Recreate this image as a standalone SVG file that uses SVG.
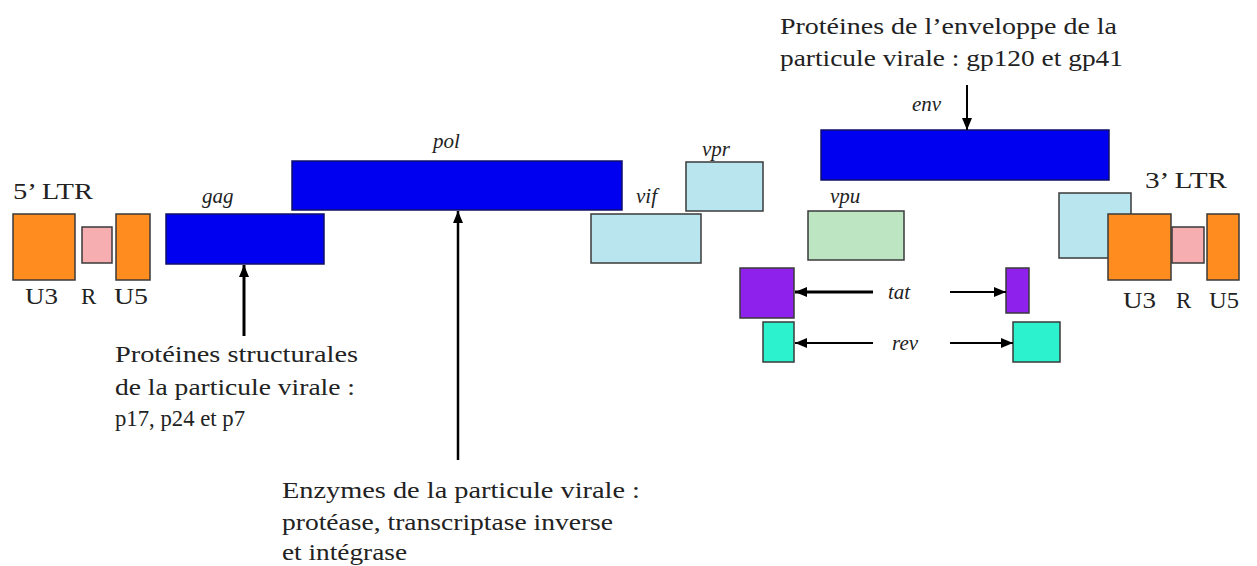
<svg xmlns="http://www.w3.org/2000/svg" width="1257" height="566" viewBox="0 0 1257 566">
<defs>
<style>
.t{font-family:"Liberation Serif","DejaVu Serif",serif;font-size:23px;fill:#222}
.i{font-family:"Liberation Serif","DejaVu Serif",serif;font-size:21px;font-style:italic;fill:#222}
.box{stroke:#3a3a3a;stroke-width:1.5}
.orange{fill:#FF8C1E}
.pink{fill:#F6AEB0}
.blue{fill:#0000F0;stroke:#10106a;stroke-width:1.5}
.lb{fill:#B9E5EE}
.lg{fill:#BDE5C2}
.pur{fill:#8E22EC}
.teal{fill:#2CF2CE}
.ar{stroke:#000;fill:none}
</style>
<marker id="ah" viewBox="0 0 12 10" refX="12" refY="5" markerWidth="12" markerHeight="10" markerUnits="userSpaceOnUse" orient="auto">
<path d="M0,0 L12,5 L0,10 Z" fill="#000"/>
</marker>
</defs>
<rect width="1257" height="566" fill="#fff"/>

<g id="ltr5">
<text class="t" x="13" y="199" textLength="80" lengthAdjust="spacingAndGlyphs">5’ LTR</text>
<rect class="box orange" x="13" y="214" width="62" height="66"/>
<rect class="box pink" x="82" y="227" width="30" height="36"/>
<rect class="box orange" x="116" y="214" width="34" height="66"/>
<text class="t" x="25" y="304" textLength="33" lengthAdjust="spacingAndGlyphs">U3</text>
<text class="t" x="81" y="304">R</text>
<text class="t" x="114" y="304" textLength="34" lengthAdjust="spacingAndGlyphs">U5</text>
</g>

<g id="gag">
<text class="i" x="202" y="203">gag</text>
<rect class="blue" x="166" y="214" width="158" height="50"/>
</g>

<g id="pol">
<text class="i" x="433" y="148">pol</text>
<rect class="blue" x="292" y="161" width="330" height="49"/>
</g>

<g id="vif">
<text class="i" x="636" y="203">vif</text>
<rect class="box lb" x="591" y="214" width="110" height="49"/>
</g>

<g id="vpr">
<text class="i" x="702" y="156" font-size="18">vpr</text>
<rect class="box lb" x="686" y="162" width="77" height="49"/>
</g>

<g id="env">
<text class="i" x="912" y="111">env</text>
<rect class="blue" x="821" y="130" width="288" height="50"/>
</g>

<g id="vpu">
<text class="i" x="830" y="203">vpu</text>
<rect class="box lg" x="808" y="211" width="96" height="49"/>
</g>

<g id="tat">
<rect class="box pur" x="740" y="268" width="54" height="50"/>
<text class="i" x="888" y="299">tat</text>
<rect class="box pur" x="1006" y="268" width="23" height="45"/>
</g>

<g id="rev">
<rect class="box teal" x="763" y="322" width="31" height="40"/>
<text class="i" x="892" y="350">rev</text>
<rect class="box teal" x="1013" y="322" width="47" height="40"/>
</g>

<g id="ltr3">
<text class="t" x="1145" y="188" textLength="82" lengthAdjust="spacingAndGlyphs">3’ LTR</text>
<rect class="box lb" x="1059" y="193" width="72" height="65"/>
<rect class="box orange" x="1108" y="214" width="63" height="66"/>
<rect class="box pink" x="1172" y="227" width="32" height="36"/>
<rect class="box orange" x="1207" y="214" width="32" height="66"/>
<text class="t" x="1123" y="308" textLength="33" lengthAdjust="spacingAndGlyphs">U3</text>
<text class="t" x="1176" y="308">R</text>
<text class="t" x="1209" y="308" textLength="30" lengthAdjust="spacingAndGlyphs">U5</text>
</g>

<g id="labels">
<text class="t" x="780" y="34" textLength="337" lengthAdjust="spacingAndGlyphs">Protéines de l’enveloppe de la</text>
<text class="t" x="780" y="66" textLength="343" lengthAdjust="spacingAndGlyphs">particule virale : gp120 et gp41</text>
<text class="t" x="115" y="362" textLength="243" lengthAdjust="spacingAndGlyphs">Protéines structurales</text>
<text class="t" x="115" y="395" textLength="240" lengthAdjust="spacingAndGlyphs">de la particule virale :</text>
<text class="t" x="115" y="426" textLength="130" lengthAdjust="spacingAndGlyphs">p17, p24 et p7</text>
<text class="t" x="282" y="498" textLength="358" lengthAdjust="spacingAndGlyphs">Enzymes de la particule virale :</text>
<text class="t" x="282" y="530" textLength="331" lengthAdjust="spacingAndGlyphs">protéase, transcriptase inverse</text>
<text class="t" x="282" y="560" textLength="125" lengthAdjust="spacingAndGlyphs">et intégrase</text>
</g>

<g id="connectors">
<line class="ar" x1="244" y1="336" x2="244" y2="265" stroke-width="3" marker-end="url(#ah)"/>
<line class="ar" x1="458" y1="460" x2="458" y2="211" stroke-width="2.5" marker-end="url(#ah)"/>
<line class="ar" x1="967" y1="85" x2="967" y2="130" stroke-width="2" marker-end="url(#ah)"/>
<line class="ar" x1="873" y1="292" x2="795" y2="292" stroke-width="3" marker-end="url(#ah)"/>
<line class="ar" x1="950" y1="292" x2="1006" y2="292" stroke-width="2" marker-end="url(#ah)"/>
<line class="ar" x1="873" y1="343" x2="795" y2="343" stroke-width="2" marker-end="url(#ah)"/>
<line class="ar" x1="950" y1="343" x2="1013" y2="343" stroke-width="2" marker-end="url(#ah)"/>
</g>
</svg>
